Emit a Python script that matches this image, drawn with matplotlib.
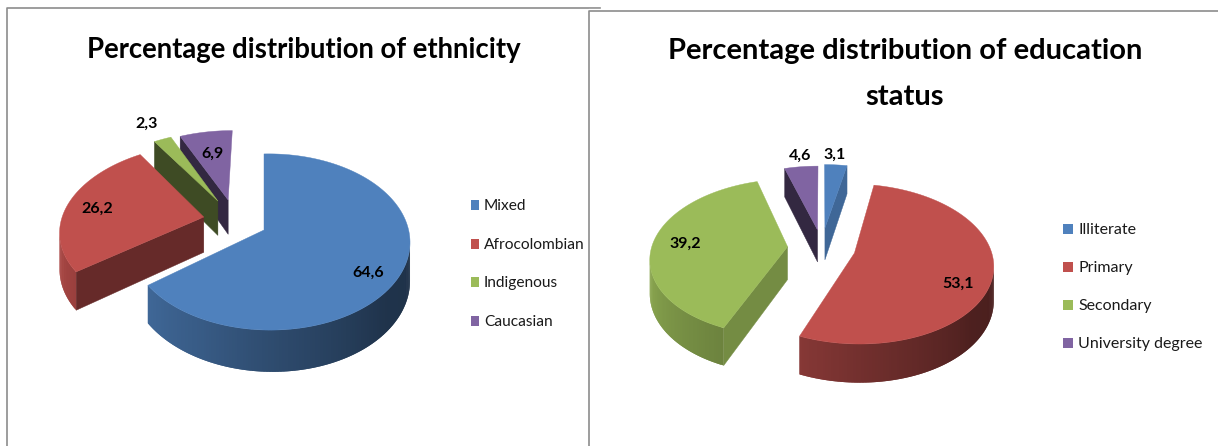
import numpy as np
import matplotlib
matplotlib.use('Agg')
from matplotlib import pyplot as plt
from matplotlib.patches import Polygon, Rectangle
from matplotlib.colors import to_rgb

plt.rcParams['font.family'] = ['Lato', 'DejaVu Sans']

# data
eth_labels = ['Mixed', 'Afrocolombian', 'Indigenous', 'Caucasian']
eth_values = [64.6, 26.2, 2.3, 6.9]
edu_labels = ['Illiterate', 'Primary', 'Secondary', 'University degree']
edu_values = [3.1, 53.1, 39.2, 4.6]

colors = ['#4F81BD', '#C0504D', '#9BBB59', '#8064A2']
K = 0.136


def shade(col, f):
    return tuple(c * f for c in to_rgb(col))


def rim_shade(deg):
    return np.interp(deg, [90, 130, 180, 202, 232, 270], [0.38, 0.40, 0.60, 0.70, 0.80, 0.95])


def pie3d(ax, values, cx, cy, ax_x, ax_y, depth, offsets, cut_shades, order, skews):
    """exploded 3d pie, values go clockwise from 12 o'clock"""
    edges = np.concatenate([[0], np.cumsum(values)]) / np.sum(values) * 360

    for i in order:
        ox, oy = offsets[i]
        a0, a1 = edges[i], edges[i + 1]
        col = colors[i]

        def project(x, y):
            w = 1 + K * y - skews[i] * x
            return cx + ax_x * (1 - skews[i]) * x / w, cy - ax_y * y / w, depth / w

        deg = np.linspace(a0, a1, max(int(a1 - a0), 2) + 1)
        rx = ox + np.sin(np.radians(deg))
        ry = oy + np.cos(np.radians(deg))
        sx, sy, d = project(rx, ry)
        px, py, pd = project(ox, oy)

        # cut faces
        cut = shade(col, cut_shades[i])
        if sx[0] < px - 5:
            ax.add_patch(Polygon([(px, py), (sx[0], sy[0]), (sx[0], sy[0] + d[0]), (px, py + pd)],
                                 fc=cut, ec=cut, lw=0.3))
        if sx[-1] > px + 5:
            ax.add_patch(Polygon([(px, py), (sx[-1], sy[-1]), (sx[-1], sy[-1] + d[-1]), (px, py + pd)],
                                 fc=cut, ec=cut, lw=0.3))

        # outer rim with gradient, each quad runs under the next one so no seams show
        for j in range(len(deg) - 1):
            if sx[j + 1] < sx[j]:
                e = min(j + 2, len(deg) - 1)
                c = shade(col, rim_shade(deg[j]))
                top = list(zip(sx[j:e + 1], sy[j:e + 1]))
                bot = list(zip(sx[j:e + 1], sy[j:e + 1] + d[j:e + 1]))
                ax.add_patch(Polygon(top + bot[::-1], fc=c, ec='none'))

        # top face
        pts = [(px, py)] + list(zip(sx, sy))
        ax.add_patch(Polygon(pts, fc=col, ec=col, lw=0.3))


def legend(ax, labels, x, ys, w, h, size):
    for i, lab in enumerate(labels):
        ax.add_patch(Rectangle((x, ys[i] - h / 2), w, h, fc=colors[i], ec='none'))
        ax.text(x + w + 5, ys[i] + 1, lab, fontsize=size, va='center', ha='left', color='#1a1a1a')


def data_labels(ax, values, pos):
    for v, (x, y) in zip(values, pos):
        ax.text(x, y + 1.5, f'{v:.1f}'.replace('.', ','), fontsize=11.5, fontweight='bold',
                ha='center', va='center', color='black')


fig = plt.figure(figsize=(12.18, 4.46), dpi=100)
ax = fig.add_axes([0, 0, 1, 1])
ax.set_xlim(0, 1218)
ax.set_ylim(446, 0)
ax.axis('off')

# panel borders
line = dict(color='#8c8c8c', lw=1.2)
ax.plot([7, 7, 600], [446, 7.5, 7.5], **line)
ax.plot([589, 589, 1218], [446, 10.5, 10.5], color='white', lw=3)
ax.plot([589, 589, 1218], [446, 10.5, 10.5], **line)

# left chart
pie3d(ax, eth_values, 264, 230, 144.6, 86.4, 36,
      offsets=[(0, 0), (-0.425, 0.153), (-0.334, 0.351), (-0.26, 0.364)],
      cut_shades=[0.4, 0.53, 0.40, 0.40], order=[3, 2, 1, 0], skews=[0.04, 0, 0, 0])
ax.text(304, 50, 'Percentage distribution of ethnicity', fontsize=19.8, fontweight='bold',
        ha='center', va='center', color='black')
legend(ax, eth_labels, 471, [205, 244, 282, 321], 8, 10, 11.2)
data_labels(ax, eth_values, [(368, 271), (97, 207), (147, 122), (212, 152)])

# right chart
pie3d(ax, edu_values, 821.5, 247.6, 136, 77, 33,
      offsets=[(0.026, 0.263), (0.24, -0.07), (-0.25, 0.012), (-0.03, 0.236)],
      cut_shades=[0.8, 0.7, 0.75, 0.40], order=[3, 0, 2, 1], skews=[0, 0, 0, 0])
ax.text(905.5, 51, 'Percentage distribution of education', fontsize=21, fontweight='bold',
        ha='center', va='center', color='black')
ax.text(905, 97, 'status', fontsize=21, fontweight='bold', ha='center', va='center', color='black')
legend(ax, edu_labels, 1063, [229, 267, 305, 343], 10, 10, 11.5)
data_labels(ax, edu_values, [(835, 153), (958, 282), (685, 242), (800, 154)])

fig.savefig('out.png', dpi=100, facecolor='white')
